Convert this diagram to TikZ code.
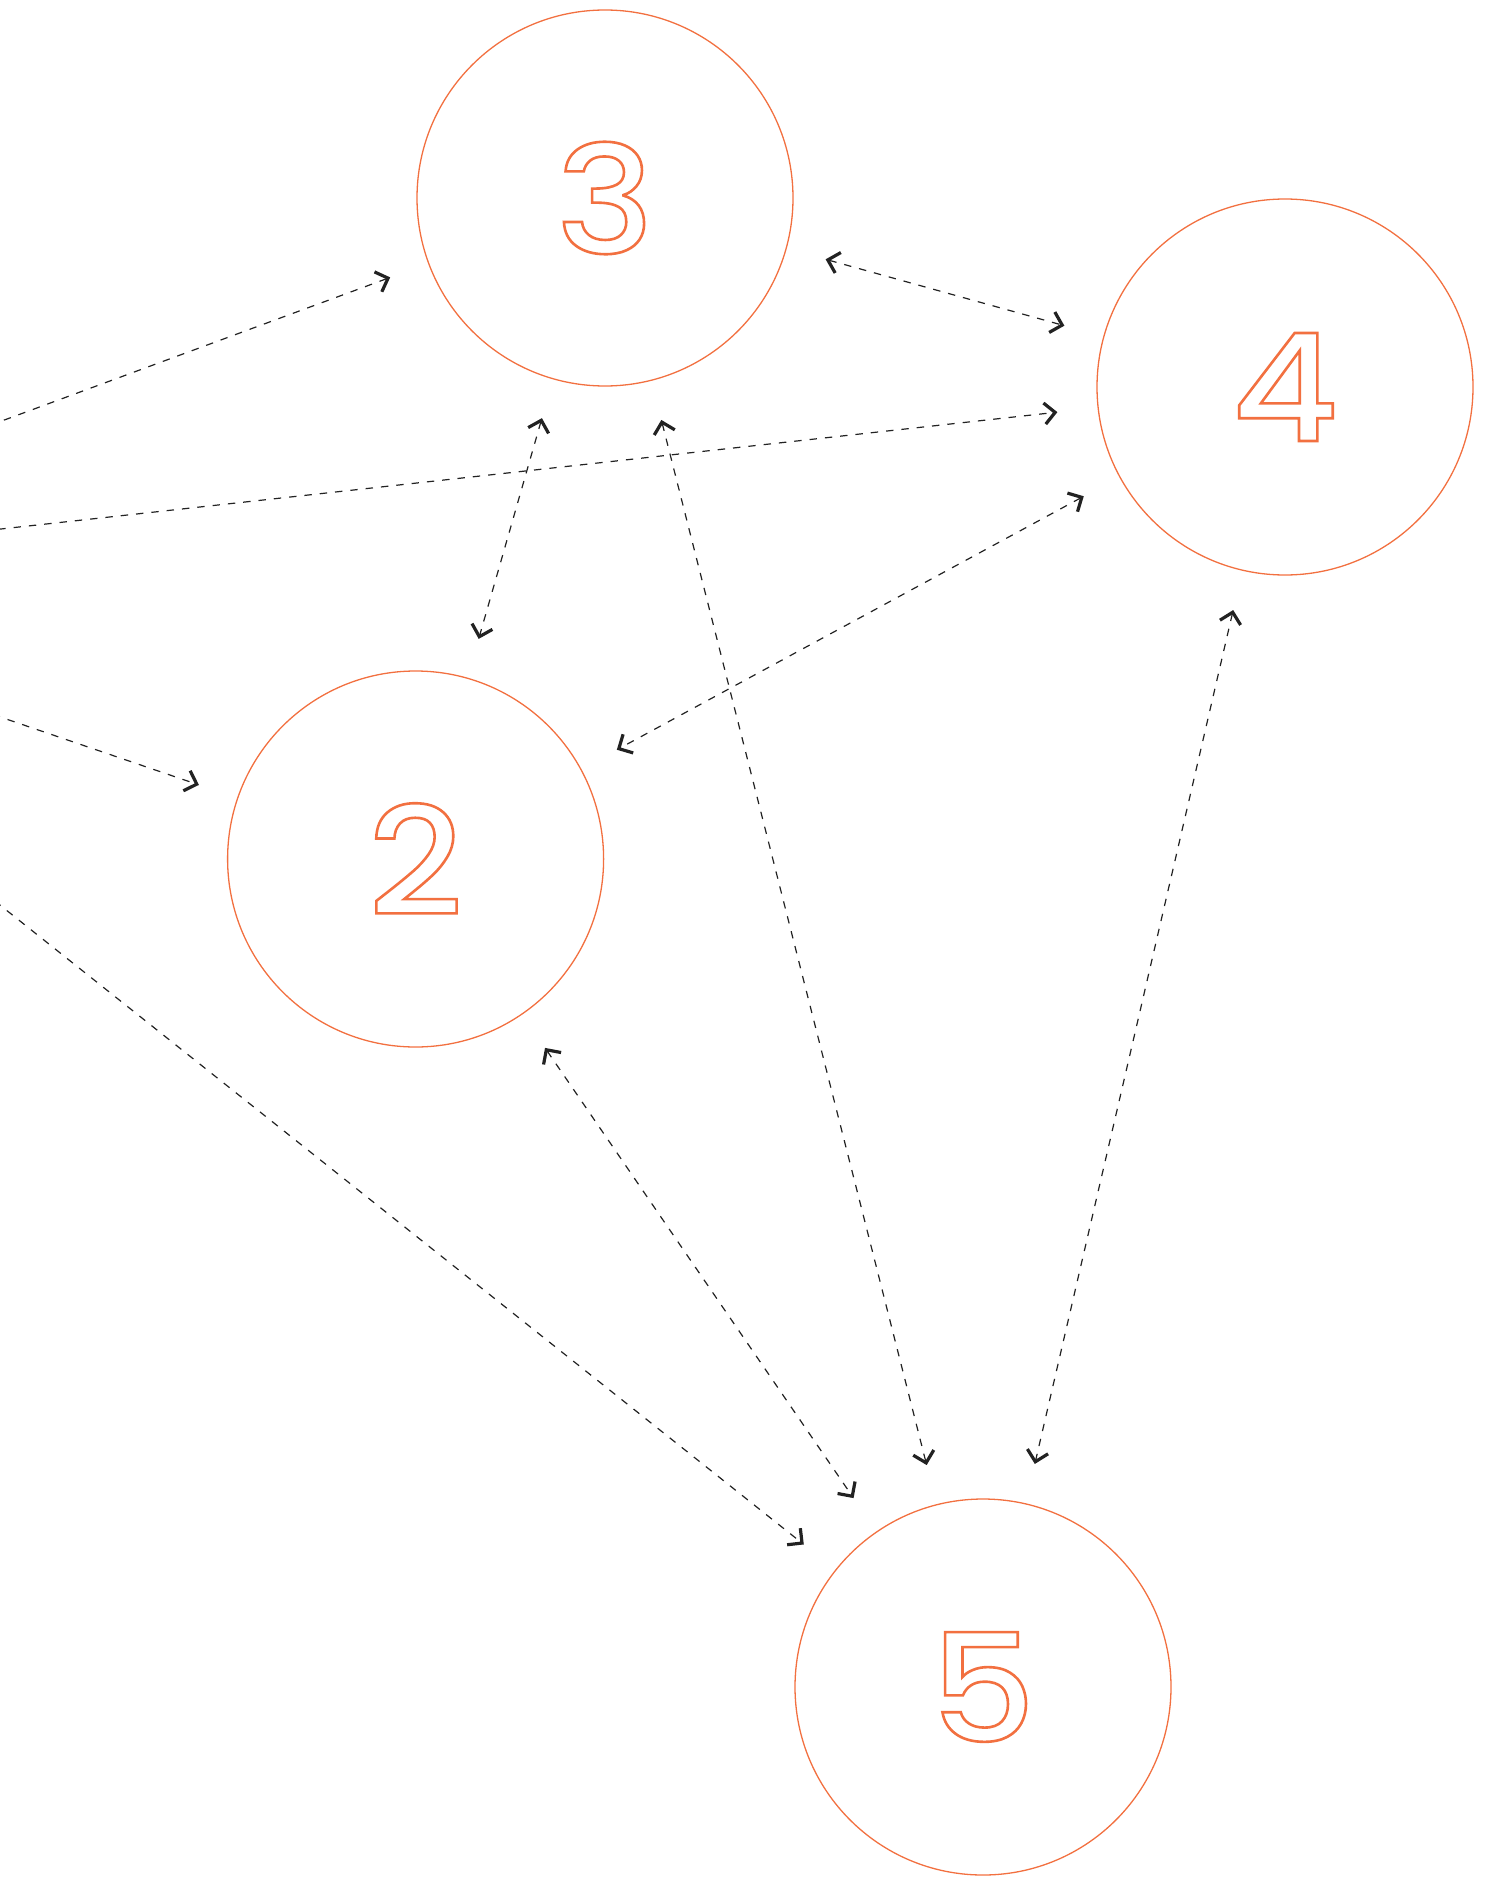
\documentclass[tikz,border=0pt]{standalone}
\usepackage{fontspec}
\setmainfont{Poppins}
\newfontfamily\digitfont{Poppins Medium}[FakeStretch=1.1]
\usetikzlibrary{arrows.meta}
\definecolor{nodeorange}{RGB}{242,112,64}
\definecolor{arrowgray}{RGB}{34,34,34}
\newcommand\outlinedigit[1]{\special{pdf:literal direct 1 Tr 1.3 w}#1\special{pdf:literal direct 0 Tr}}
\tikzset{
  circnode/.style={circle, draw=nodeorange, line width=0.65pt, minimum size=188pt, inner sep=0pt, outer sep=0pt,
    text=nodeorange, font=\digitfont\fontsize{75}{75}\selectfont},
  link/.style={draw=arrowgray, line width=0.6pt, dash pattern=on 3.7pt off 4pt,
    shorten >=20.5pt, shorten <=20.5pt,
    arrows={Straight Barb[length=5.3pt,width=10.6pt,line width=1.6pt]-Straight Barb[length=5.3pt,width=10.6pt,line width=1.6pt]}},
  feed/.style={draw=arrowgray, line width=0.6pt, dash pattern=on 3.7pt off 4pt,
    shorten >=20.5pt,
    arrows={-Straight Barb[length=5.3pt,width=10.6pt,line width=1.6pt]}}
}
\begin{document}
\begin{tikzpicture}[x=0.5pt,y=-0.5pt]
\useasboundingbox (0,0) rectangle (1490,1878);
\clip (0,0) rectangle (1490,1878);
\coordinate (n1) at (-415,575);
\node[circnode] (n3) at (605,198) {\outlinedigit{3}};
\node[circnode] (n4) at (1285,387) {\outlinedigit{4}};
\node[circnode] (n2) at (415.6,859) {\outlinedigit{2}};
\node[circnode] (n5) at (983,1687) {\outlinedigit{5}};
\draw[feed] (n1) -- (n3);
\draw[feed] (n1) -- (n4);
\draw[feed] (n1) -- (n2);
\draw[feed] (n1) -- (n5);
\path[link] (n3) -- (n4);
\path[link] (n3) -- (n2);
\path[link] (n3) -- (n5);
\path[link] (n4) -- (n2);
\path[link] (n4) -- (n5);
\path[link] (n2) -- (n5);
\end{tikzpicture}
\end{document}
